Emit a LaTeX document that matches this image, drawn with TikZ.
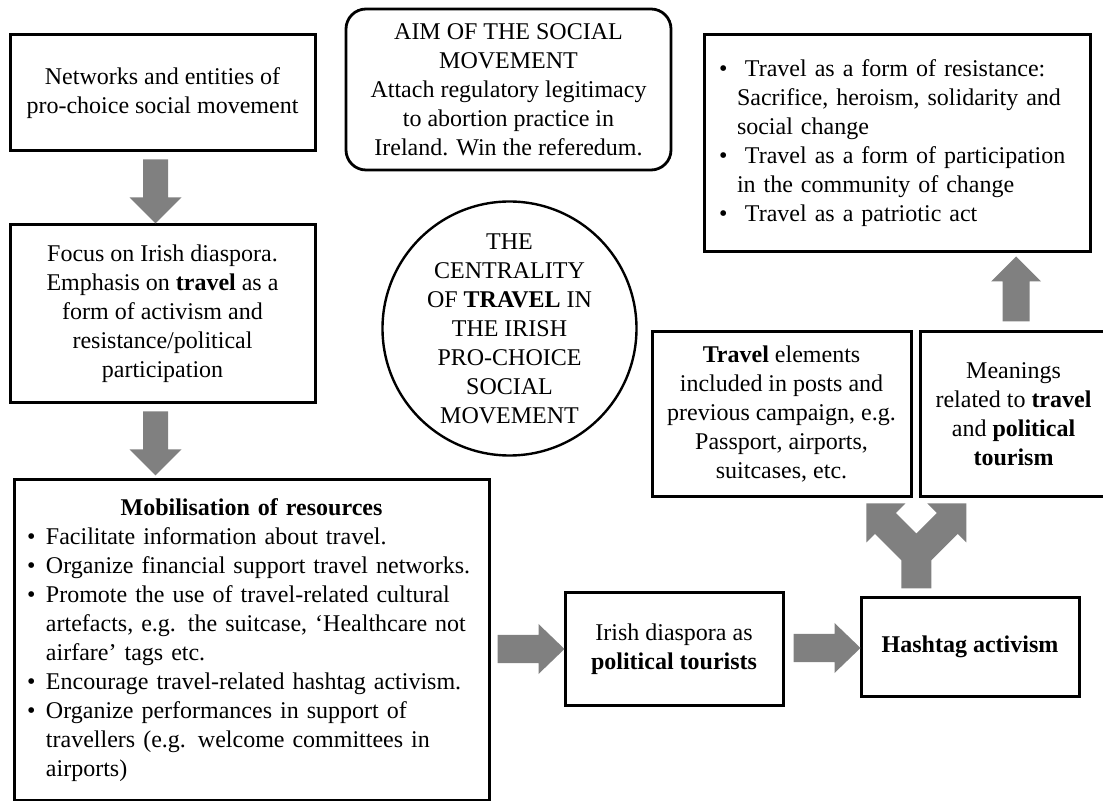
\documentclass[tikz,border=0pt]{standalone}
\usepackage{fontspec}
\setmainfont{Liberation Serif}
\usetikzlibrary{calc}
\definecolor{arrowgray}{RGB}{128,128,128}
\newcommand{\dfont}{\fontsize{12}{14.5}\selectfont}
\newcommand{\bulm}{\makebox[16pt][l]{\hspace*{6.5pt}\textbullet}}
\newcommand{\contm}{\hspace*{16pt}}
\newcommand{\bult}{\makebox[20.5pt][l]{\hspace*{7.5pt}\textbullet}}
\newcommand{\contt}{\hspace*{16.5pt}}
\begin{document}
\begin{tikzpicture}[x=0.5pt,y=-0.5pt,
  box/.style={draw, line width=1.5pt, rectangle, inner sep=0pt, align=center, font=\dfont},
  garrow/.style={fill=arrowgray, draw=none},
  downarr/.pic={\fill[garrow] (-12.5,0) -- (12.5,0) -- (12.5,38) -- (26,38) -- (0,64) -- (-26,38) -- (-12.5,38) -- cycle;},
  uparr/.pic={\fill[garrow] (-13.5,0) -- (13.5,0) -- (13.5,-40) -- (25,-40) -- (0,-65) -- (-25,-40) -- (-13.5,-40) -- cycle;},
  rightarr/.pic={\fill[garrow] (0,-14) -- (41,-14) -- (41,-25) -- (67,0) -- (41,25) -- (41,14) -- (0,14) -- cycle;},
  splitarr/.pic={\fill[garrow] (-50,-85) -- (-11,-85) -- (-20.5,-75.5) -- (0,-55) -- (20.5,-75.5) -- (11,-85) -- (50,-85) -- (50,-46) -- (41.35,-54.65) -- (15,-28.3) -- (15,0) -- (-15,0) -- (-15,-28.3) -- (-41.35,-54.65) -- (-50,-46) -- cycle;}
]
\useasboundingbox (0,0) rectangle (1103,801);

% boxes
\node[box, minimum width=152.5pt, minimum height=58pt] (net) at (162.5,93)
  {Networks and entities of\\pro-choice social movement};
\node[box, minimum width=152.5pt, minimum height=89pt] (focus) at (162.5,314)
  {Focus on Irish diaspora.\\Emphasis on \textbf{travel} as a\\form of activism and\\resistance/political\\participation};
\node[box, minimum width=237.5pt, minimum height=160.25pt, text width=237.5pt, align=left] (mob) at (251.5,640.25)
  {\makebox[237.5pt]{\textbf{Mobilisation of resources}}\\
   \bulm Facilitate information about travel.\\
   \bulm Organize financial support travel networks.\\
   \bulm Promote the use of travel-related cultural\\
   \contm artefacts, e.g. the suitcase, ‘Healthcare not\\
   \contm airfare’ tags etc.\\
   \bulm Encourage travel-related hashtag activism.\\
   \bulm Organize performances in support of\\
   \contm travellers (e.g. welcome committees in\\
   \contm airports)};
\node[draw, rounded corners=10pt, line width=1.4pt, minimum width=162.5pt, minimum height=80.5pt, inner sep=0pt, align=center, font=\dfont] (aim) at (508.5,89.5)
  {AIM OF THE SOCIAL\\MOVEMENT\\Attach regulatory legitimacy\\to abortion practice in\\Ireland. Win the referedum.};
\node[draw, circle, line width=1.2pt, minimum size=127pt, inner sep=0pt, align=center, font=\dfont] (circ) at (509.5,328.5)
  {THE\\CENTRALITY\\OF \textbf{TRAVEL} IN\\THE IRISH\\PRO-CHOICE\\SOCIAL\\MOVEMENT};
\node[box, minimum width=193pt, minimum height=108.5pt, text width=193pt, align=left] (mean1) at (897,143.5)
  {\bult Travel as a form of resistance:\\
   \contt Sacrifice, heroism, solidarity and\\
   \contt social change\\
   \bult Travel as a form of participation\\
   \contt in the community of change\\
   \bult Travel as a patriotic act};
\node[box, minimum width=129.5pt, minimum height=82.5pt] (elem) at (781.5,414.5)
  {\textbf{Travel} elements\\included in posts and\\previous campaign, e.g.\\Passport, airports,\\suitcases, etc.};
\node[box, minimum width=93.5pt, minimum height=82.5pt] (mean) at (1013.5,414.5)
  {Meanings\\related to \textbf{travel}\\and \textbf{political}\\\textbf{tourism}};
\node[box, minimum width=109pt, minimum height=56pt] (irish) at (674,649)
  {Irish diaspora as\\\textbf{political tourists}};
\node[box, minimum width=109pt, minimum height=49pt] (hash) at (970,647)
  {\textbf{Hashtag activism}};

% block arrows
\pic at ($(net.south)+(-7,7)$) {downarr};
\pic at ($(focus.south)+(-7,7)$) {downarr};
\pic at ($(mob.east |- irish.west)+(7,0)$) {rightarr};
\pic at ($(irish.east)+(9,-1)$) {rightarr};
\pic at ($(mean.north)+(2.5,-9)$) {uparr};
\pic at ($(hash.north)+(-53.7,-8)$) {splitarr};
\end{tikzpicture}
\end{document}
